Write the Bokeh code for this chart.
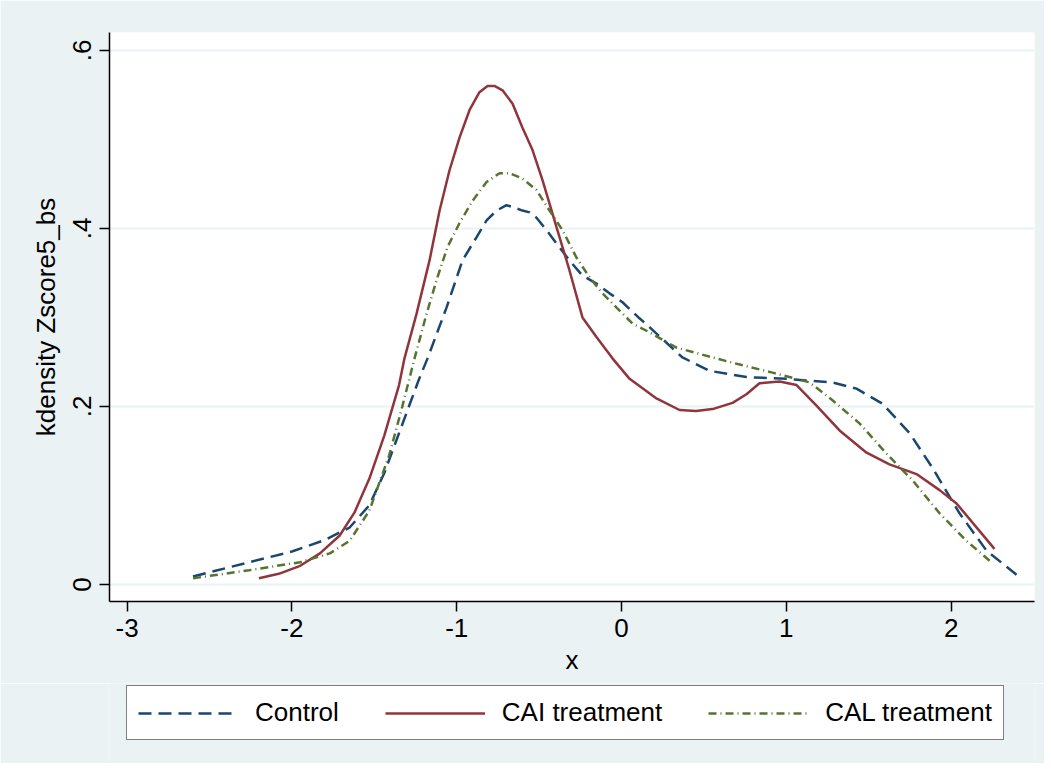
from bokeh.plotting import figure
from bokeh.layouts import column
from bokeh.models import (Range1d, FixedTicker, CustomJSTickFormatter, Legend, LegendItem)
from bokeh.embed import file_html
from bokeh.resources import INLINE

# ---- data ----
control_x = [-2.60, -2.26, -2.00, -1.80, -1.65, -1.53, -1.44, -1.35, -1.23, -1.177, -1.062, -0.965,
             -0.880, -0.819, -0.758, -0.698, -0.661, -0.601, -0.558, -0.516, -0.455, -0.394, -0.316,
             -0.237, -0.152, -0.073, 0.006, 0.109, 0.170, 0.370, 0.534, 0.758, 1.001, 1.280, 1.426,
             1.584, 1.748, 1.887, 2.051, 2.215, 2.397]
control_y = [0.009, 0.025, 0.037, 0.050, 0.064, 0.089, 0.125, 0.170, 0.230, 0.254, 0.311, 0.364,
             0.390, 0.409, 0.420, 0.426, 0.424, 0.420, 0.418, 0.412, 0.398, 0.383, 0.364,
             0.347, 0.338, 0.327, 0.317, 0.299, 0.289, 0.255, 0.240, 0.233, 0.231, 0.227, 0.220,
             0.203, 0.170, 0.131, 0.080, 0.038, 0.011]

cai_x = [-2.20, -2.08, -1.95, -1.83, -1.71, -1.62, -1.53, -1.44, -1.35, -1.317, -1.244, -1.165,
         -1.104, -1.044, -0.983, -0.922, -0.862, -0.813, -0.771, -0.722, -0.661, -0.601, -0.540,
         -0.479, -0.394, -0.316, -0.237, -0.152, -0.055, 0.049, 0.212, 0.352, 0.452, 0.552, 0.674,
         0.760, 0.837, 0.959, 1.062, 1.183, 1.323, 1.487, 1.626, 1.790, 1.930, 2.033, 2.263]
cai_y = [0.007, 0.012, 0.021, 0.035, 0.055, 0.081, 0.119, 0.167, 0.224, 0.254, 0.304, 0.364,
         0.420, 0.465, 0.502, 0.533, 0.553, 0.560, 0.560, 0.555, 0.540, 0.513, 0.488,
         0.454, 0.401, 0.353, 0.300, 0.278, 0.254, 0.231, 0.209, 0.196, 0.195, 0.197, 0.204,
         0.214, 0.226, 0.228, 0.224, 0.201, 0.173, 0.148, 0.135, 0.124, 0.106, 0.091, 0.040]

cal_x = [-2.60, -2.26, -1.95, -1.77, -1.65, -1.53, -1.41, -1.33, -1.256, -1.183, -1.117, -1.056,
         -0.983, -0.904, -0.819, -0.740, -0.680, -0.601, -0.516, -0.437, -0.358, -0.273, -0.194,
         -0.115, -0.030, 0.067, 0.152, 0.334, 0.674, 0.916, 1.141, 1.280, 1.444, 1.608, 1.766,
         1.930, 2.093, 2.251]
cal_y = [0.007, 0.016, 0.025, 0.035, 0.049, 0.083, 0.145, 0.200, 0.254, 0.304, 0.345, 0.379,
         0.406, 0.431, 0.452, 0.462, 0.462, 0.456, 0.443, 0.420, 0.398, 0.367, 0.345,
         0.327, 0.311, 0.293, 0.285, 0.266, 0.249, 0.238, 0.227, 0.207, 0.181, 0.147, 0.117,
         0.080, 0.049, 0.024]

series_names = ["Control", "CAI treatment", "CAL treatment"]
x_ticks = [-3, -2, -1, 0, 1, 2]
y_ticks = [0, 0.2, 0.4, 0.6]

FONT = "Liberation Sans"
BG = "#EAF2F3"
COLORS = ["#1A476F", "#90353B", "#55752F"]
DASHES = ["13 7", "solid", "8 4 1 4"]
SERIES = [(control_x, control_y), (cai_x, cai_y), (cal_x, cal_y)]

p = figure(width=1044, height=683, output_backend="svg", toolbar_location=None,
           x_range=Range1d(-3.107, 2.506), y_range=Range1d(-0.0191, 0.620),
           min_border_left=109, min_border_right=10, min_border_top=32, min_border_bottom=82,
           background_fill_color="white", border_fill_color=BG, outline_line_color=None)

# axes
for ax in (p.xaxis[0], p.yaxis[0]):
    ax.axis_line_color = "black"
    ax.axis_line_width = 1.5
    ax.major_tick_line_color = "black"
    ax.major_tick_line_width = 1.5
    ax.major_tick_out = 10
    ax.major_tick_in = 0
    ax.minor_tick_line_color = None
    ax.major_label_text_font = FONT
    ax.major_label_text_font_size = "26px"
    ax.major_label_text_color = "black"
    ax.axis_label_text_font = FONT
    ax.axis_label_text_font_size = "26px"
    ax.axis_label_text_font_style = "normal"
    ax.axis_label_text_color = "black"

p.xaxis.ticker = FixedTicker(ticks=x_ticks)
p.xaxis.formatter = CustomJSTickFormatter(code="return tick.toFixed(0);")
p.xaxis.axis_label = "x"
p.xaxis.major_label_standoff = 7
p.xaxis.axis_label_standoff = 5

p.yaxis.ticker = FixedTicker(ticks=y_ticks)
p.yaxis.formatter = CustomJSTickFormatter(
    code="return tick == 0 ? '0' : tick.toFixed(1).replace(/^0/, '');")
p.yaxis.major_label_orientation = "vertical"
p.yaxis.axis_label = "kdensity Zscore5_bs"
p.yaxis.major_label_standoff = 8
p.yaxis.axis_label_standoff = 10

p.xgrid.grid_line_color = None
p.ygrid.ticker = FixedTicker(ticks=y_ticks)
p.ygrid.grid_line_color = BG
p.ygrid.grid_line_width = 2

for (xs, ys), c, d in zip(SERIES, COLORS, DASHES):
    p.line(xs, ys, line_color=c, line_width=2.5, line_dash=d)

# legend strip below the plot
p2 = figure(width=1044, height=80, output_backend="svg", toolbar_location=None,
            x_range=Range1d(-3.107, 2.506), y_range=Range1d(-0.0191, 0.620),
            x_axis_type=None, y_axis_type=None,
            min_border=0, min_border_left=0, min_border_right=0, min_border_top=0,
            min_border_bottom=0,
            background_fill_color=BG, border_fill_color=BG, outline_line_color=None)
items = []
for name, (xs, ys), c, d in zip(series_names, SERIES, COLORS, DASHES):
    r = p2.line(xs, ys, line_color=c, line_width=2.5, line_dash=d, visible=False)
    items.append(LegendItem(label=name, renderers=[r]))

legend = Legend(items=items, orientation="horizontal", location=(17, 23), margin=0,
                padding=11, spacing=46, glyph_width=100, glyph_height=30, label_height=30,
                label_standoff=17, label_text_font=FONT, label_text_font_size="26px",
                label_text_color="black", border_line_color="black", border_line_width=1,
                background_fill_color="white", background_fill_alpha=1.0)
p2.add_layout(legend, "center")

layout = column(p, p2, spacing=0)
open("out.html", "w").write(file_html(layout, INLINE))
